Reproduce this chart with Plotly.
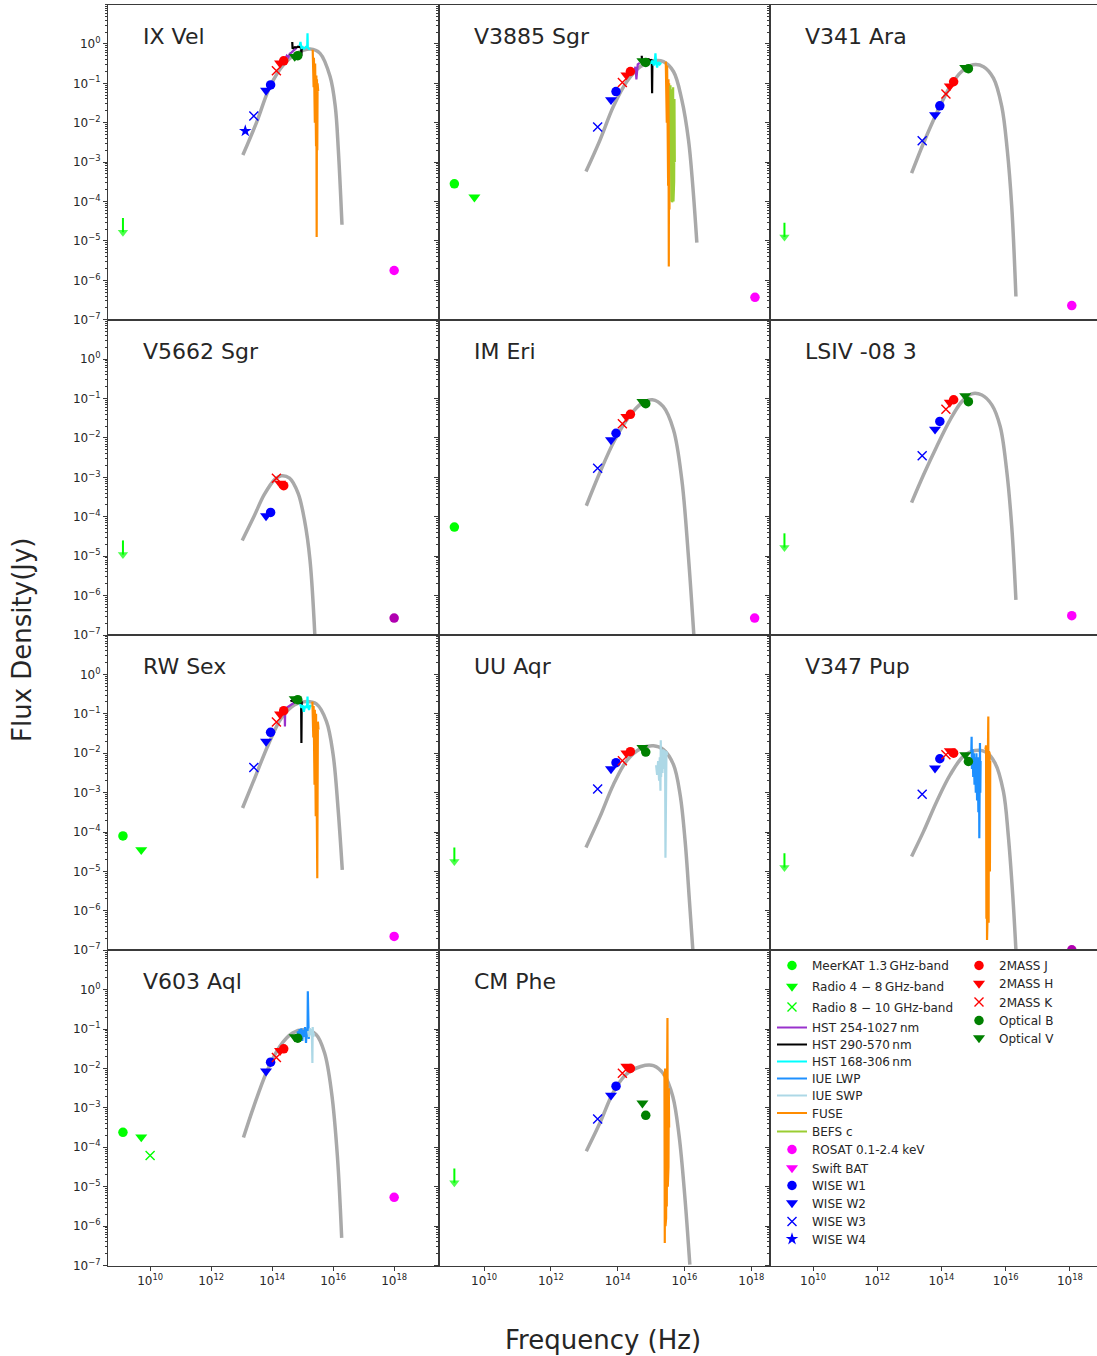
import numpy as np
import plotly.graph_objects as go

FIG_W, FIG_H = 1097, 1356

STAR_NAMES = ["IX Vel", "V3885 Sgr", "V341 Ara", "V5662 Sgr", "IM Eri", "LSIV -08 3",
              "RW Sex", "UU Aqr", "V347 Pup", "V603 Aql", "CM Phe"]

# ---------------- photometry (log10 Hz, log10 Jy) ----------------
BAND_NAMES = ["WISE W4", "WISE W3", "WISE W2", "WISE W1", "2MASS K", "2MASS H",
              "2MASS J", "Optical V", "Optical B"]
BAND_LOGNU = [13.12, 13.40, 13.80, 13.95, 14.14, 14.26, 14.38, 14.74, 14.84]

PHOT_IX_VEL = [-2.21, -1.83, -1.18, -1.04, -0.68, -0.49, -0.43, -0.32, -0.30]
PHOT_V3885_SGR = [None, -2.11, -1.42, -1.21, -0.98, -0.79, -0.70, -0.43, -0.47]
PHOT_V341_ARA = [None, -2.46, -1.80, -1.57, -1.27, -1.07, -0.96, -0.60, -0.63]
PHOT_V5662_SGR = [None, None, -3.98, -3.89, -3.02, -3.15, -3.21, None, None]
PHOT_IM_ERI = [None, -2.77, -2.05, -1.88, -1.64, -1.46, -1.40, -1.08, -1.13]
PHOT_LSIV = [None, -2.45, -1.78, -1.58, -1.27, -1.10, -1.03, -0.93, -1.08]
PHOT_RW_SEX = [None, -2.36, -1.70, -1.47, -1.21, -1.01, -0.92, -0.62, -0.64]
PHOT_UU_AQR = [None, -2.91, -2.40, -2.24, -2.19, -2.00, -1.96, -1.86, -1.97]
PHOT_V347_PUP = [None, -3.04, -2.38, -2.14, -2.04, -1.94, -2.00, -2.04, -2.21]
PHOT_V603_AQL = [None, None, -2.07, -1.84, -1.72, -1.55, -1.50, -1.20, -1.23]
PHOT_CM_PHE = [None, -3.28, -2.68, -2.45, -2.12, -1.95, -2.00, -2.88, -3.19]

# ---------------- radio ----------------
MEERKAT_LOGNU = 9.11
RADIO48_LOGNU = 9.71
RADIO810_LOGNU = 10.0
MEERKAT_DET_STARS = ["V3885 Sgr", "IM Eri", "RW Sex", "V603 Aql"]
MEERKAT_DET_LOGF = [-3.55, -4.26, -4.10, -3.62]
RADIO48_STARS = ["V3885 Sgr", "RW Sex", "V603 Aql"]
RADIO48_LOGF = [-3.89, -4.45, -3.74]
RADIO810_STARS = ["V603 Aql"]
RADIO810_LOGF = [-4.21]
MEERKAT_UL_STARS = ["IX Vel", "V341 Ara", "V5662 Sgr", "LSIV -08 3", "UU Aqr", "V347 Pup", "CM Phe"]
MEERKAT_UL_LOGF = [-4.42, -4.54, -4.60, -4.42, -4.39, -4.54, -4.54]

# ---------------- X-ray ----------------
ROSAT_STARS = ["IX Vel", "V3885 Sgr", "V341 Ara", "V5662 Sgr", "IM Eri", "LSIV -08 3",
               "RW Sex", "V347 Pup", "V603 Aql"]
ROSAT_LOGNU = [18.00, 18.11, 18.06, 18.00, 18.10, 18.06, 18.00, 18.06, 18.00]
ROSAT_LOGF = [-5.75, -6.43, -6.64, -6.57, -6.57, -6.51, -6.65, -6.99, -5.27]

# ---------------- model curves ----------------
CURVE_X_IX_VEL = [13.04, 13.50, 13.93, 14.37, 14.81, 15.25, 15.57, 15.90, 16.07, 16.17, 16.29]
CURVE_Y_IX_VEL = [-2.82, -1.97, -1.08, -0.53, -0.24, -0.13, -0.24, -0.83, -1.59, -2.69, -4.59]
CURVE_X_V3885_SGR = [13.05, 13.47, 13.87, 14.27, 14.67, 15.07, 15.37, 15.67, 15.92, 16.12, 16.25, 16.37]
CURVE_Y_V3885_SGR = [-3.24, -2.44, -1.59, -0.96, -0.58, -0.43, -0.45, -0.70, -1.42, -2.44, -3.62, -5.04]
CURVE_X_V341_ARA = [13.07, 13.44, 13.85, 14.27, 14.63, 14.99, 15.31, 15.62, 15.88, 16.05, 16.19, 16.32]
CURVE_Y_V341_ARA = [-3.28, -2.52, -1.76, -1.08, -0.70, -0.53, -0.58, -0.87, -1.59, -2.69, -4.13, -6.41]
CURVE_X_V5662_SGR = [13.02, 13.40, 13.74, 14.09, 14.30, 14.57, 14.85, 15.06, 15.24, 15.40]
CURVE_Y_V5662_SGR = [-4.60, -4.00, -3.44, -3.05, -2.96, -3.02, -3.40, -4.08, -5.09, -7.00]
CURVE_X_IM_ERI = [13.06, 13.46, 13.90, 14.34, 14.72, 15.04, 15.36, 15.67, 15.92, 16.11, 16.28]
CURVE_Y_IM_ERI = [-3.72, -2.89, -2.07, -1.46, -1.12, -1.03, -1.20, -1.79, -3.06, -4.92, -7.00]
CURVE_X_LSIV = [13.07, 13.44, 13.85, 14.27, 14.63, 14.94, 15.26, 15.57, 15.83, 16.03, 16.19, 16.32]
CURVE_Y_LSIV = [-3.64, -2.94, -2.22, -1.54, -1.08, -0.88, -0.91, -1.16, -1.71, -2.81, -4.25, -6.11]
CURVE_X_RW_SEX = [13.03, 13.43, 13.87, 14.30, 14.74, 15.12, 15.45, 15.78, 16.00, 16.16, 16.30]
CURVE_Y_RW_SEX = [-3.39, -2.63, -1.79, -1.11, -0.77, -0.69, -0.75, -1.19, -2.04, -3.39, -4.96]
CURVE_X_UU_AQR = [13.05, 13.47, 13.87, 14.27, 14.67, 15.07, 15.37, 15.67, 15.87, 16.02, 16.15, 16.25]
CURVE_Y_UU_AQR = [-4.39, -3.61, -2.80, -2.19, -1.89, -1.81, -1.91, -2.29, -3.06, -4.24, -5.77, -6.99]
CURVE_X_V347_PUP = [13.07, 13.44, 13.85, 14.27, 14.68, 15.05, 15.36, 15.67, 15.93, 16.08, 16.22, 16.32]
CURVE_Y_V347_PUP = [-4.62, -3.99, -3.23, -2.55, -2.08, -1.93, -1.96, -2.25, -2.97, -4.07, -5.59, -6.99]
CURVE_X_V603_AQL = [13.06, 13.40, 13.83, 14.25, 14.67, 15.06, 15.44, 15.72, 15.95, 16.14, 16.28]
CURVE_Y_V603_AQL = [-3.75, -2.96, -2.07, -1.44, -1.10, -1.02, -1.14, -1.61, -2.62, -4.23, -6.30]
CURVE_X_CM_PHE = [13.06, 13.47, 13.86, 14.24, 14.69, 15.07, 15.39, 15.65, 15.84, 16.01, 16.16]
CURVE_Y_CM_PHE = [-4.10, -3.38, -2.62, -2.16, -1.95, -1.93, -2.16, -2.71, -3.72, -5.25, -6.98]

# ---------------- spectra (log10 Hz, log10 Jy) ----------------
IXV_HST254_X = [14.43, 14.48, 14.53, 14.58, 14.63, 14.68, 14.72, 14.76, 14.80]
IXV_HST254_Y = [-0.38, -0.30, -0.34, -0.25, -0.22, -0.18, -0.15, -0.12, -0.10]
IXV_HST290_X = [14.66, 14.67, 14.70, 14.75, 14.80, 14.85, 14.90, 14.95, 14.96, 14.97, 14.98]
IXV_HST290_Y = [0.05, -0.12, -0.10, -0.08, -0.09, -0.07, -0.08, -0.10, -0.30, -0.08, -0.12]
IXV_HST168_X = [14.90, 14.93, 14.96, 15.00, 15.04, 15.08, 15.12, 15.15, 15.16, 15.17, 15.20, 15.24]
IXV_HST168_Y = [-0.05, 0.05, -0.10, -0.08, -0.12, -0.10, -0.08, -0.05, 0.27, -0.10, -0.12, -0.14]
IXV_FUSE_X = [15.33, 15.34, 15.35, 15.36, 15.37, 15.38, 15.39, 15.40, 15.41, 15.42,
              15.43, 15.44, 15.45, 15.46, 15.47, 15.48, 15.49, 15.50, 15.51]
IXV_FUSE_Y = [-0.15, -0.60, -0.25, -1.10, -0.35, -1.60, -0.45, -2.00, -0.50, -2.40,
              -0.60, -2.60, -0.80, -4.90, -0.90, -2.70, -1.00, -2.20, -1.20]

V3885_HST254_X = [14.42, 14.46, 14.50, 14.53, 14.56, 14.58, 14.60, 14.63, 14.66]
V3885_HST254_Y = [-0.75, -0.65, -0.70, -0.58, -0.90, -0.55, -0.52, -0.50, -0.48]
V3885_HST290_X = [14.72, 14.73, 14.78, 14.83, 14.88, 14.93, 14.98, 15.02, 15.03, 15.04, 15.05]
V3885_HST290_Y = [-0.30, -0.45, -0.42, -0.40, -0.41, -0.39, -0.42, -0.40, -1.25, -0.42, -0.45]
V3885_HST168_X = [14.97, 15.00, 15.04, 15.08, 15.11, 15.13, 15.15, 15.18, 15.22, 15.26, 15.30]
V3885_HST168_Y = [-0.45, -0.50, -0.42, -0.55, -0.45, -0.24, -0.48, -0.60, -0.46, -0.52, -0.48]
V3885_FUSE_X = [15.44, 15.45, 15.46, 15.47, 15.48, 15.49, 15.50, 15.51, 15.52, 15.53, 15.54, 15.55, 15.56, 15.57]
V3885_FUSE_Y = [-0.45, -1.20, -0.50, -2.00, -0.55, -2.40, -0.70, -3.60, -0.90, -5.65, -1.00, -4.20, -1.20, -2.00]
V3885_BEFS_X = [15.58, 15.59, 15.60, 15.61, 15.62, 15.63, 15.64, 15.65, 15.66, 15.67, 15.68, 15.69, 15.70, 15.71]
V3885_BEFS_Y = [-1.05, -3.80, -1.10, -4.00, -1.15, -4.02, -1.20, -3.90, -1.10, -4.00, -1.30, -3.50, -1.40, -3.00]

RWS_HST254_X = [14.33, 14.37, 14.41, 14.42, 14.43, 14.47, 14.52, 14.57, 14.62, 14.67, 14.72]
RWS_HST254_Y = [-0.95, -0.90, -0.92, -1.32, -0.88, -0.85, -0.82, -0.80, -0.78, -0.75, -0.72]
RWS_HST290_X = [14.60, 14.66, 14.72, 14.78, 14.84, 14.90, 14.95, 14.96, 14.97, 15.00]
RWS_HST290_Y = [-0.68, -0.66, -0.70, -0.67, -0.69, -0.72, -0.68, -1.74, -0.70, -0.72]
RWS_HST168_X = [14.92, 14.96, 15.00, 15.04, 15.08, 15.12, 15.15, 15.16, 15.17, 15.21, 15.25, 15.28]
RWS_HST168_Y = [-0.75, -0.85, -0.78, -0.95, -0.80, -0.85, -0.76, -0.56, -0.80, -0.90, -0.78, -0.82]
RWS_FUSE_X = [15.32, 15.33, 15.34, 15.35, 15.36, 15.37, 15.38, 15.39, 15.40, 15.41, 15.42,
              15.43, 15.44, 15.45, 15.46, 15.47, 15.48, 15.49, 15.50, 15.51, 15.52]
RWS_FUSE_Y = [-0.69, -1.00, -0.75, -1.60, -0.80, -2.20, -0.85, -2.80, -0.90, -3.30, -0.95,
              -3.60, -1.00, -3.50, -1.05, -3.20, -5.17, -3.00, -1.20, -2.50, -1.40]

UUA_SWP_X = [15.15, 15.18, 15.21, 15.24, 15.26, 15.28, 15.29, 15.30, 15.32, 15.34,
             15.36, 15.38, 15.40, 15.42, 15.43, 15.44, 15.46, 15.48]
UUA_SWP_Y = [-2.30, -2.55, -2.20, -2.70, -2.10, -2.95, -1.67, -2.60, -1.95, -2.50,
             -1.90, -2.40, -1.92, -2.30, -4.65, -2.10, -1.95, -2.05]

V347_LWP_X = [14.93, 14.94, 14.95, 14.97, 14.99, 15.01, 15.03, 15.05, 15.07, 15.09,
              15.11, 15.13, 15.15, 15.17, 15.18, 15.19, 15.20, 15.21, 15.22]
V347_LWP_Y = [-2.00, -1.58, -2.40, -1.90, -2.60, -2.00, -2.80, -2.10, -3.00, -2.00,
              -3.20, -2.10, -3.50, -2.20, -4.16, -2.00, -1.74, -3.00, -2.20]
V347_FUSE_X = [15.37, 15.38, 15.39, 15.40, 15.41, 15.42, 15.43, 15.44, 15.45, 15.46,
               15.47, 15.48, 15.49, 15.50, 15.51, 15.52]
V347_FUSE_Y = [-1.90, -5.50, -1.80, -6.20, -1.85, -6.74, -1.90, -6.00, -1.80, -1.07,
               -6.30, -1.95, -5.80, -2.00, -5.00, -2.20]

V603_LWP_X = [14.84, 14.87, 14.90, 14.93, 14.96, 14.99, 15.02, 15.05, 15.08, 15.11,
              15.14, 15.16, 15.17, 15.18, 15.20, 15.22]
V603_LWP_Y = [-1.05, -1.30, -1.00, -1.25, -0.98, -1.30, -1.02, -1.20, -0.95, -1.35,
              -1.00, -1.15, -0.04, -1.10, -1.25, -1.00]
V603_SWP_X = [15.18, 15.21, 15.24, 15.27, 15.30, 15.32, 15.33, 15.35, 15.37]
V603_SWP_Y = [-1.05, -1.20, -0.98, -1.15, -1.00, -1.86, -0.95, -1.20, -1.10]

CMP_FUSE_X = [15.38, 15.39, 15.40, 15.41, 15.42, 15.43, 15.44, 15.45, 15.46,
              15.47, 15.48, 15.49, 15.50, 15.51, 15.52, 15.53, 15.54]
CMP_FUSE_Y = [-2.20, -5.50, -2.10, -6.43, -2.00, -6.00, -2.10, -5.80, -2.00,
              -5.50, -2.20, -0.72, -5.00, -2.30, -4.50, -2.50, -3.50]

# axis ticks
X_TICK_EXP = [10, 12, 14, 16, 18]
Y_TICK_EXP = [0, -1, -2, -3, -4, -5, -6, -7]

# legend entries: (label, kind, symbol, colour)
LEGEND_COL_A = [("MeerKAT 1.3\u2009GHz-band", "m", "circle", "lime"),
                ("Radio 4 \u2212 8\u2009GHz-band", "m", "triangle-down", "lime"),
                ("Radio 8 \u2212 10 GHz-band", "m", "x-thin", "lime"),
                ("HST 254-1027\u2009nm", "l", None, "darkorchid"),
                ("HST 290-570\u2009nm", "l", None, "black"),
                ("HST 168-306\u2009nm", "l", None, "cyan"),
                ("IUE LWP", "l", None, "dodgerblue"),
                ("IUE SWP", "l", None, "lightblue"),
                ("FUSE", "l", None, "darkorange"),
                ("BEFS c", "l", None, "yellowgreen"),
                ("ROSAT 0.1-2.4 keV", "m", "circle", "magenta"),
                ("Swift BAT", "m", "triangle-down", "magenta"),
                ("WISE W1", "m", "circle", "blue"),
                ("WISE W2", "m", "triangle-down", "blue"),
                ("WISE W3", "m", "x-thin", "blue"),
                ("WISE W4", "m", "star", "blue")]
LEGEND_COL_B = [("2MASS J", "m", "circle", "red"),
                ("2MASS H", "m", "triangle-down", "red"),
                ("2MASS K", "m", "x-thin", "red"),
                ("Optical B", "m", "circle", "green"),
                ("Optical V", "m", "triangle-down", "green")]

# ---------------- assemble ----------------
PHOT = {"IX Vel": PHOT_IX_VEL, "V3885 Sgr": PHOT_V3885_SGR, "V341 Ara": PHOT_V341_ARA,
        "V5662 Sgr": PHOT_V5662_SGR, "IM Eri": PHOT_IM_ERI, "LSIV -08 3": PHOT_LSIV,
        "RW Sex": PHOT_RW_SEX, "UU Aqr": PHOT_UU_AQR, "V347 Pup": PHOT_V347_PUP,
        "V603 Aql": PHOT_V603_AQL, "CM Phe": PHOT_CM_PHE}
CURVES = {"IX Vel": (CURVE_X_IX_VEL, CURVE_Y_IX_VEL), "V3885 Sgr": (CURVE_X_V3885_SGR, CURVE_Y_V3885_SGR),
          "V341 Ara": (CURVE_X_V341_ARA, CURVE_Y_V341_ARA), "V5662 Sgr": (CURVE_X_V5662_SGR, CURVE_Y_V5662_SGR),
          "IM Eri": (CURVE_X_IM_ERI, CURVE_Y_IM_ERI), "LSIV -08 3": (CURVE_X_LSIV, CURVE_Y_LSIV),
          "RW Sex": (CURVE_X_RW_SEX, CURVE_Y_RW_SEX), "UU Aqr": (CURVE_X_UU_AQR, CURVE_Y_UU_AQR),
          "V347 Pup": (CURVE_X_V347_PUP, CURVE_Y_V347_PUP), "V603 Aql": (CURVE_X_V603_AQL, CURVE_Y_V603_AQL),
          "CM Phe": (CURVE_X_CM_PHE, CURVE_Y_CM_PHE)}
SPECTRA = [
    ("IX Vel", "HST254", IXV_HST254_X, IXV_HST254_Y), ("IX Vel", "HST290", IXV_HST290_X, IXV_HST290_Y),
    ("IX Vel", "HST168", IXV_HST168_X, IXV_HST168_Y), ("IX Vel", "FUSE", IXV_FUSE_X, IXV_FUSE_Y),
    ("V3885 Sgr", "HST254", V3885_HST254_X, V3885_HST254_Y), ("V3885 Sgr", "HST290", V3885_HST290_X, V3885_HST290_Y),
    ("V3885 Sgr", "HST168", V3885_HST168_X, V3885_HST168_Y), ("V3885 Sgr", "FUSE", V3885_FUSE_X, V3885_FUSE_Y),
    ("V3885 Sgr", "BEFS", V3885_BEFS_X, V3885_BEFS_Y),
    ("RW Sex", "HST254", RWS_HST254_X, RWS_HST254_Y), ("RW Sex", "HST290", RWS_HST290_X, RWS_HST290_Y),
    ("RW Sex", "HST168", RWS_HST168_X, RWS_HST168_Y), ("RW Sex", "FUSE", RWS_FUSE_X, RWS_FUSE_Y),
    ("UU Aqr", "SWP", UUA_SWP_X, UUA_SWP_Y),
    ("V347 Pup", "LWP", V347_LWP_X, V347_LWP_Y), ("V347 Pup", "FUSE", V347_FUSE_X, V347_FUSE_Y),
    ("V603 Aql", "LWP", V603_LWP_X, V603_LWP_Y), ("V603 Aql", "SWP", V603_SWP_X, V603_SWP_Y),
    ("CM Phe", "FUSE", CMP_FUSE_X, CMP_FUSE_Y),
]

SPEC_COLOR = {"HST254": "darkorchid", "HST290": "black", "HST168": "cyan", "LWP": "dodgerblue",
              "SWP": "lightblue", "FUSE": "darkorange", "BEFS": "yellowgreen"}
BAND_STYLE = {"WISE W4": ("star", "blue"), "WISE W3": ("x-thin", "blue"),
              "WISE W2": ("triangle-down", "blue"), "WISE W1": ("circle", "blue"),
              "2MASS K": ("x-thin", "red"), "2MASS H": ("triangle-down", "red"),
              "2MASS J": ("circle", "red"), "Optical V": ("triangle-down", "green"),
              "Optical B": ("circle", "green")}
SYM_SIZE = {"circle": 9.5, "triangle-down": 10.5, "x-thin": 9, "star": 9.5}
ROSAT_DARK = {"V5662 Sgr", "V347 Pup"}

FONT = "DejaVu Sans"
TXT = "#262626"
LINE = "#3a3a3a"

# panel geometry (pixels)
COL_L = [108, 439, 770]
COL_R = [439, 770, 1101]
ROW_TOP0 = 4.5
ROW_H = 315.25
XRANGES = [[8.62, 19.47], [8.65, 18.56], [8.66, 18.97]]
YRANGE = [-7, 1]

# legend layout (pixels): left edges and entry centres
LEG_A_LEFT, LEG_B_LEFT = 772, 959
LEG_A_ROWS = [965, 986, 1006.5, 1027, 1044, 1061, 1078, 1095, 1112.5, 1131,
              1149, 1167.5, 1185, 1202.5, 1221, 1238.5]
LEG_B_ROWS = [965, 983, 1001.5, 1020, 1037.5]
LEG_TOP_OFFSET = 14


def px_x(p):
    return p / FIG_W


def px_y(p):
    return 1 - p / FIG_H


def mk(symbol, color):
    size = SYM_SIZE[symbol]
    if symbol == "x-thin":
        return dict(symbol=symbol, size=size, color=color, line=dict(width=1.4, color=color))
    return dict(symbol=symbol, size=size, color=color, line=dict(width=0))


fig = go.Figure()
layout = {}
annotations = []

for i in range(12):
    r, c = divmod(i, 3)
    n = "" if i == 0 else str(i + 1)
    top = ROW_TOP0 + ROW_H * r
    bot = top + ROW_H
    xr = list(XRANGES[c])
    xdom_r = min(COL_R[c], FIG_W)
    if c == 2:
        xr[1] = XRANGES[2][0] + (XRANGES[2][1] - XRANGES[2][0]) * (xdom_r - COL_L[c]) / (COL_R[c] - COL_L[c])
    bottom_row = (r == 3)
    layout["xaxis" + n] = dict(
        type="log", range=xr, domain=[px_x(COL_L[c]), px_x(xdom_r)], anchor="y" + n,
        showline=True, linecolor=LINE, linewidth=1, mirror=True, showgrid=False, zeroline=False,
        ticks="outside" if bottom_row else "", ticklen=4, tickwidth=1, tickcolor=LINE,
        tickvals=[10.0 ** e for e in X_TICK_EXP],
        ticktext=["10<sup>%d</sup>" % e for e in X_TICK_EXP],
        showticklabels=bottom_row, tickfont=dict(family=FONT, size=12, color=TXT),
    )
    layout["yaxis" + n] = dict(
        type="log", range=YRANGE, domain=[px_y(bot), px_y(top)], anchor="x" + n,
        showline=True, linecolor=LINE, linewidth=1, mirror=True, showgrid=False, zeroline=False,
        ticks="outside", ticklen=4, tickwidth=1, tickcolor=LINE,
        tickvals=[10.0 ** e for e in Y_TICK_EXP],
        ticktext=["10<sup>%s</sup>" % (str(e).replace("-", "\u2212")) for e in Y_TICK_EXP],
        showticklabels=(c == 0), tickfont=dict(family=FONT, size=12, color=TXT),
        minor=dict(ticks="outside", ticklen=2, tickwidth=0.8, tickcolor=LINE, dtick="D1", showgrid=False),
    )

star_axis = {}
for i, s in enumerate(STAR_NAMES):
    n = "" if i == 0 else str(i + 1)
    star_axis[s] = ("x" + n, "y" + n)
    annotations.append(dict(text=s, xref="x%s domain" % n, yref="y%s domain" % n, x=0.1, y=0.9,
                            xanchor="left", yanchor="middle", showarrow=False,
                            font=dict(family=FONT, size=22, color=TXT)))


def add(star, **kw):
    xa, ya = star_axis[star]
    fig.add_trace(go.Scatter(xaxis=xa, yaxis=ya, showlegend=False, hoverinfo="skip", **kw))


def p10(v):
    return [None if a is None else 10.0 ** a for a in v]


# model curves
for s in STAR_NAMES:
    cx, cy = CURVES[s]
    add(s, x=p10(cx), y=p10(cy), mode="lines",
        line=dict(color="#a9a9a9", width=3.5, shape="spline", smoothing=1.0))

# spectra
for s, inst, sx, sy in SPECTRA:
    add(s, x=p10(sx), y=p10(sy), mode="lines", line=dict(color=SPEC_COLOR[inst], width=2.2))

# photometry
for s in STAR_NAMES:
    vals = PHOT[s]
    for b, nu, v in zip(BAND_NAMES, BAND_LOGNU, vals):
        if v is None:
            continue
        sym, col = BAND_STYLE[b]
        add(s, x=[10.0 ** nu], y=[10.0 ** v], mode="markers", marker=mk(sym, col))

# radio detections
for s, v in zip(MEERKAT_DET_STARS, MEERKAT_DET_LOGF):
    add(s, x=[10.0 ** MEERKAT_LOGNU], y=[10.0 ** v], mode="markers", marker=mk("circle", "lime"))
for s, v in zip(RADIO48_STARS, RADIO48_LOGF):
    add(s, x=[10.0 ** RADIO48_LOGNU], y=[10.0 ** v], mode="markers", marker=mk("triangle-down", "lime"))
for s, v in zip(RADIO810_STARS, RADIO810_LOGF):
    add(s, x=[10.0 ** RADIO810_LOGNU], y=[10.0 ** v], mode="markers", marker=mk("x-thin", "lime"))

# radio upper limits (downward arrows)
ARROW_DEC = 0.36
for s, v in zip(MEERKAT_UL_STARS, MEERKAT_UL_LOGF):
    xv = 10.0 ** MEERKAT_LOGNU
    add(s, x=[xv, xv], y=[10.0 ** v, 10.0 ** (v - ARROW_DEC)], mode="lines+markers",
        line=dict(color="lime", width=2),
        marker=dict(symbol="triangle-down", size=[0, 9], color="lime", line=dict(width=0)))

# X-ray
for s, nu, v in zip(ROSAT_STARS, ROSAT_LOGNU, ROSAT_LOGF):
    col = "#b000b0" if s in ROSAT_DARK else "magenta"
    add(s, x=[10.0 ** nu], y=[10.0 ** v], mode="markers", marker=mk("circle", col))

# ---------------- legends (one small legend box per entry) ----------------
leg_common = dict(xanchor="left", yanchor="top", bgcolor="rgba(0,0,0,0)", borderwidth=0,
                  font=dict(family=FONT, size=12, color=TXT), tracegroupgap=0, itemclick=False,
                  itemdoubleclick=False)
k = 0
for entries, left, rows in ((LEGEND_COL_A, LEG_A_LEFT, LEG_A_ROWS), (LEGEND_COL_B, LEG_B_LEFT, LEG_B_ROWS)):
    for (name, kind, sym, col), yc in zip(entries, rows):
        k += 1
        legname = "legend" if k == 1 else "legend%d" % k
        if kind == "l":
            tr = go.Scatter(x=[None], y=[None], mode="lines", name=name, line=dict(color=col, width=2))
        else:
            tr = go.Scatter(x=[None], y=[None], mode="markers", name=name, marker=mk(sym, col))
        tr.update(xaxis="x12", yaxis="y12", legend=legname, showlegend=True)
        fig.add_trace(tr)
        layout[legname] = dict(x=px_x(left), y=px_y(yc - LEG_TOP_OFFSET), **leg_common)

annotations.append(dict(text="Flux Density(Jy)", xref="paper", yref="paper", x=px_x(22), y=px_y(640),
                        textangle=-90, showarrow=False, xanchor="center", yanchor="middle",
                        font=dict(family=FONT, size=26, color=TXT)))
annotations.append(dict(text="Frequency (Hz)", xref="paper", yref="paper", x=px_x(603), y=px_y(1340),
                        showarrow=False, xanchor="center", yanchor="middle",
                        font=dict(family=FONT, size=26, color=TXT)))

fig.update_layout(width=FIG_W, height=FIG_H, autosize=False,
                  margin=dict(l=0, r=0, t=0, b=0, pad=0, autoexpand=False),
                  paper_bgcolor="white", plot_bgcolor="white", showlegend=True,
                  annotations=annotations, **layout)

fig.write_html("out.html", include_plotlyjs=True, full_html=True,
               config={"displayModeBar": False, "responsive": False})
